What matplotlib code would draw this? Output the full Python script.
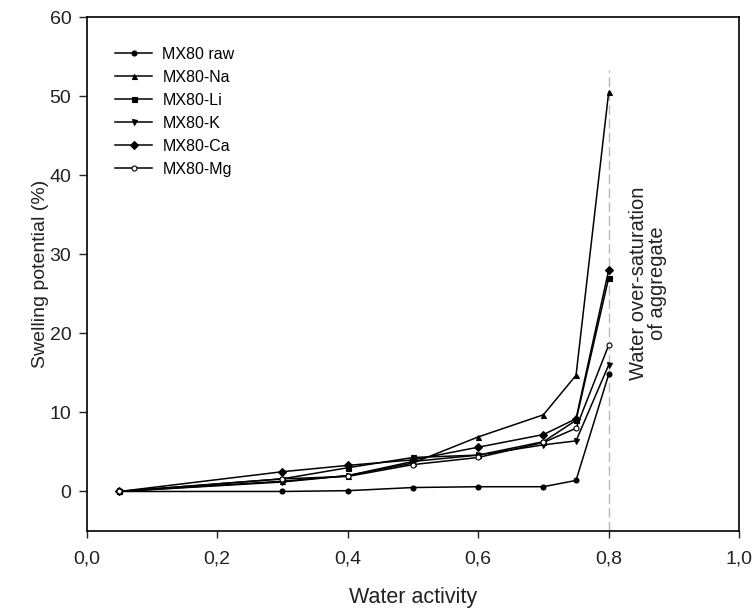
import matplotlib
matplotlib.use('Agg')
import matplotlib.pyplot as plt
from matplotlib.ticker import FuncFormatter

plt.rcParams['font.family'] = ['Liberation Sans', 'DejaVu Sans']

# ---------------------------
# Data
# ---------------------------
water_activity = [0.05, 0.3, 0.4, 0.5, 0.6, 0.7, 0.75, 0.8]

mx80_raw = [0, 0.0, 0.1, 0.5, 0.6, 0.6, 1.4, 14.8]
mx80_na = [0, 1.3, 2.0, 3.6, 6.9, 9.7, 14.7, 50.5]
mx80_li = [0, 1.6, 3.0, 4.3, 4.6, 6.3, 9.0, 27.0]
mx80_k = [0, 1.2, 2.0, 3.8, 4.6, 5.9, 6.4, 16.0]
mx80_ca = [0, 2.5, 3.3, 4.0, 5.6, 7.2, 9.2, 28.0]
mx80_mg = [0, 1.6, 1.9, 3.4, 4.3, 6.2, 8.0, 18.5]

labels = ['MX80 raw', 'MX80-Na', 'MX80-Li', 'MX80-K', 'MX80-Ca', 'MX80-Mg']
series = [mx80_raw, mx80_na, mx80_li, mx80_k, mx80_ca, mx80_mg]
markers = ['o', '^', 's', 'v', 'D', 'o']
facecolors = ['black', 'black', 'black', 'black', 'black', 'white']

saturation_x = 0.8
x_ticks = [0.0, 0.2, 0.4, 0.6, 0.8, 1.0]
y_ticks = [0, 10, 20, 30, 40, 50, 60]

# ---------------------------
# Plot
# ---------------------------
fig = plt.figure(figsize=(7.56, 6.16), dpi=100)
ax = fig.add_axes([0.1147, 0.138, 0.863, 0.834])

for vals, lab, m, fc in zip(series, labels, markers, facecolors):
    ax.plot(water_activity, vals, color='black', linewidth=1.1,
            marker=m, markersize=3.6, markerfacecolor=fc,
            markeredgecolor='black', markeredgewidth=0.8, label=lab)

# water over-saturation line
ax.plot([saturation_x, saturation_x], [-5, 53.3], color='#b8b8b8',
        linewidth=1.0, dashes=(7, 3), zorder=0)
ax.text(0.861, 26.4, 'Water over-saturation\nof aggregate', rotation=90,
        ha='center', va='center', fontsize=14.5, linespacing=1.0,
        color='#222222')

ax.set_xlim(0, 1.0)
ax.set_ylim(-5, 60)
ax.set_xticks(x_ticks)
ax.set_yticks(y_ticks)
ax.xaxis.set_major_formatter(FuncFormatter(lambda v, p: f'{v:.1f}'.replace('.', ',')))
ax.tick_params(direction='out', width=1, labelsize=14, colors='#222222')
ax.tick_params(axis='x', length=5, pad=9)
ax.tick_params(axis='y', length=6, pad=5)

ax.set_xlabel('Water activity', fontsize=15.5, color='#222222', labelpad=14)
ax.set_ylabel('Swelling potential (%)', fontsize=14, color='#222222', labelpad=0.5)

for s in ax.spines.values():
    s.set_linewidth(1.2)

ax.legend(loc='upper left', bbox_to_anchor=(0.034, 0.955), frameon=False,
          borderaxespad=0, fontsize=11.5, handlelength=2.3,
          labelspacing=0.5, handletextpad=0.65)

fig.savefig('out.png', dpi=100)
